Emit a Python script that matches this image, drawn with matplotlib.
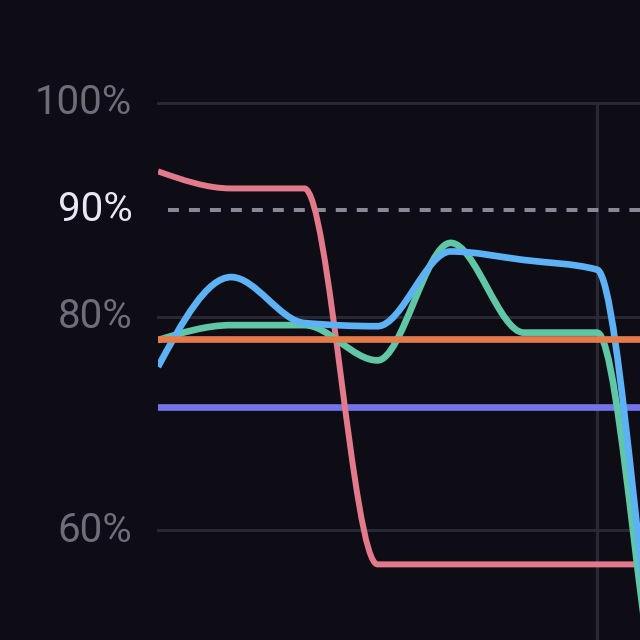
import numpy as np
import matplotlib
matplotlib.use("Agg")
import matplotlib.pyplot as plt
from matplotlib.path import Path
from matplotlib.patches import PathPatch

# ---- data ----
x_index = [0, 1, 2, 3, 4, 5, 6, 7, 8]
red_series = [93.6, 92.0, 92.0, 56.8, 56.8, 56.8, 56.8, 56.8, 56.8]
green_series = [77.8, 79.2, 79.2, 75.9, 86.9, 78.5, 78.5, 40.5, 40.5]
blue_series = [75.3, 83.7, 79.4, 79.1, 86.1, 85.3, 84.4, 42.5, 42.5]
orange_level = 77.9
purple_level = 71.5
target_level = 90
y_ticks = [60, 80, 90, 100]
y_tick_labels = ["60%", "80%", "90%", "100%"]
grid_y = [60, 80, 100]
grid_x = [6]

BG = "#0e0d16"
GRID = "#2a2933"
RED = "#e27a8b"
GREEN = "#5fc7a6"
BLUE = "#5cb2f4"
ORANGE = "#e37b4a"
PURPLE = "#7373ea"
DASH = "#8a8896"
LABEL = "#6f6d7a"
LABEL_HI = "#e9e7f3"

plt.rcParams["font.family"] = ["Roboto", "DejaVu Sans"]
plt.rcParams["lines.scale_dashes"] = False


def monotone_path(xs, ys):
    xs = np.asarray(xs, float)
    ys = np.asarray(ys, float)
    n = len(xs)
    h = np.diff(xs)
    s = np.diff(ys) / h
    t = np.zeros(n)
    for i in range(1, n - 1):
        h0, h1 = h[i - 1], h[i]
        s0, s1 = s[i - 1], s[i]
        p = (s0 * h1 + s1 * h0) / (h0 + h1)
        t[i] = (np.sign(s0) + np.sign(s1)) * min(abs(s0), abs(s1), 0.5 * abs(p))
    t[0] = (3 * s[0] - t[1]) / 2
    t[-1] = (3 * s[-1] - t[-2]) / 2
    verts = [(xs[0], ys[0])]
    codes = [Path.MOVETO]
    for i in range(n - 1):
        dx = (xs[i + 1] - xs[i]) / 3
        verts += [(xs[i] + dx, ys[i] + dx * t[i]),
                  (xs[i + 1] - dx, ys[i + 1] - dx * t[i + 1]),
                  (xs[i + 1], ys[i + 1])]
        codes += [Path.CURVE4] * 3
    return Path(verts, codes)


fig = plt.figure(figsize=(6.4, 6.4), dpi=100, facecolor=BG)
px_per_unit = 73.17
px_per_pct = 10.68
ymin, ymax = 40, 100
H = (ymax - ymin) * px_per_pct / 640
ax = fig.add_axes([158 / 640, 1 - 103 / 640 - H, 8 * px_per_unit / 640, H])
ax.set_facecolor(BG)
ax.set_xlim(0, 8)
ax.set_ylim(ymin, ymax)
for sp in ax.spines.values():
    sp.set_visible(False)

for gy in grid_y:
    ax.axhline(gy, color=GRID, lw=2.2, zorder=1, clip_on=False)
for gx in grid_x:
    ax.axvline(gx, color=GRID, lw=2.2, zorder=1)

ax.axhline(target_level, xmin=0, xmax=1, color=DASH, lw=2.9,
           linestyle=(7.9, (7.9, 7.2)), zorder=2)

ax.axhline(purple_level, color=PURPLE, lw=4.8, zorder=3)
for series, col, lw, z in [(red_series, RED, 4.3, 4),
                           (green_series, GREEN, 4.8, 5),
                           (blue_series, BLUE, 4.8, 6)]:
    patch = PathPatch(monotone_path(x_index, series), fill=False, edgecolor=col,
                      lw=lw, zorder=z, capstyle="butt", joinstyle="round")
    ax.add_patch(patch)
ax.axhline(orange_level, color=ORANGE, lw=4.8, zorder=7)

ax.set_xticks([])
ax.set_yticks(y_ticks)
ax.set_yticklabels(y_tick_labels)
ax.tick_params(axis="y", length=0, pad=18.5, labelsize=29)
for lbl, v in zip(ax.get_yticklabels(), y_ticks):
    lbl.set_color(LABEL_HI if v == target_level else LABEL)
    lbl.set_verticalalignment("center")

fig.savefig("out.png", dpi=100, facecolor=BG)
